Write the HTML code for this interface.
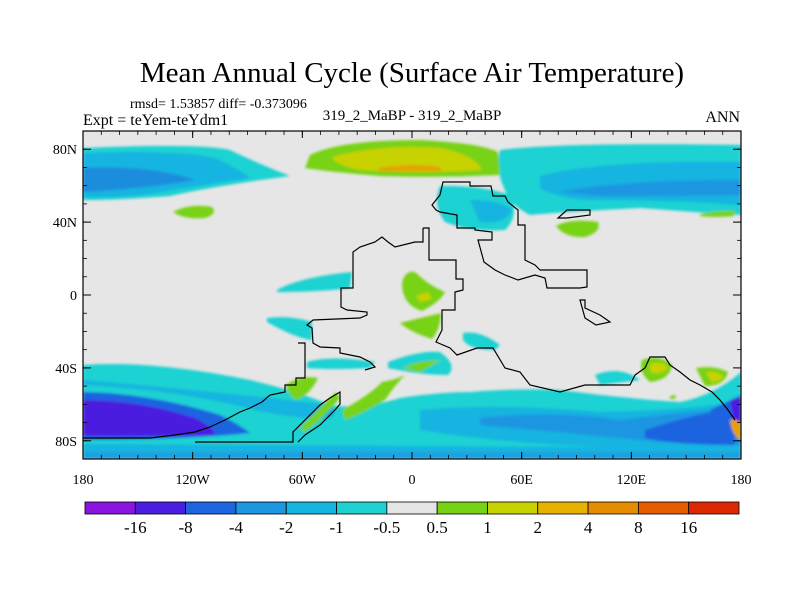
<!DOCTYPE html>
<html><head><meta charset="utf-8"><style>
body{margin:0;background:#fff;}
svg{display:block;font-family:"Liberation Serif",serif;}
</style></head><body>
<svg id="chart" width="800" height="600" viewBox="0 0 800 600">
<rect width="800" height="600" fill="#fff"/>
<text x="412" y="82" font-size="29" text-anchor="middle">Mean Annual Cycle (Surface Air Temperature)</text>
<text x="130" y="108" font-size="14">rmsd= 1.53857 diff= -0.373096</text>
<text x="83" y="125" font-size="16">Expt = teYem-teYdm1</text>
<text x="412" y="120" font-size="15" text-anchor="middle">319_2_MaBP - 319_2_MaBP</text>
<text x="740" y="122" font-size="16" text-anchor="end">ANN</text>
<defs><clipPath id="mc"><rect x="83" y="131" width="658" height="328"/></clipPath>
<filter id="bl"><feGaussianBlur stdDeviation="1.2"/></filter></defs>
<g clip-path="url(#mc)">
<rect x="83" y="131" width="658" height="328" fill="#e6e6e6"/>
<g filter="url(#bl)">
<path d="M83,148 Q200,143 230,150 Q250,160 290,176 Q220,185 170,196 Q120,200 83,200Z" fill="#1ed2d2"/>
<path d="M83,153 Q180,150 215,158 Q240,170 250,178 Q200,185 150,194 Q110,198 83,197Z" fill="#14b4e0"/>
<path d="M83,168 Q150,165 195,180 Q150,188 83,192Z" fill="#1e8cdc"/>
<path d="M500,150 Q560,142 741,145 L741,215 Q690,212 640,208 Q560,212 530,215 Q510,205 505,190 Q495,170 500,150Z" fill="#1ed2d2"/>
<path d="M540,176 Q600,160 741,162 L741,205 Q680,200 600,200 Q560,200 540,188Z" fill="#14b4e0"/>
<path d="M560,192 Q620,180 741,180 L741,195 Q680,196 600,196Z" fill="#1e96e0"/>
<path d="M310,155 Q340,140 420,140 Q480,143 498,152 L500,175 Q440,178 380,176 Q330,172 305,168Z" fill="#78d214"/>
<path d="M332,157 Q380,144 440,148 Q475,155 482,170 Q420,174 360,170 Q335,165 332,157Z" fill="#c8d200"/>
<path d="M378,168 Q410,163 440,167 L442,171 L380,171Z" fill="#e6a000"/>
<path d="M440,186 Q480,185 510,195 Q520,215 505,230 Q470,232 445,222 Q432,205 440,186Z" fill="#1ed2d2"/>
<path d="M470,200 Q500,200 512,210 Q505,225 480,222Z" fill="#14b4e0"/>
<path d="M173,212 Q190,203 212,207 Q218,214 205,218 Q185,220 173,212Z" fill="#78d214"/>
<path d="M556,226 Q570,218 598,222 Q602,232 585,237 Q565,238 556,226Z" fill="#78d214"/>
<path d="M700,214 Q720,210 735,211 L734,216 Q715,218 700,216Z" fill="#78d214"/>
<path d="M402,283 Q405,270 415,272 Q428,285 445,292 Q440,302 422,311 Q402,305 402,283Z" fill="#78d214"/>
<path d="M416,296 L428,292 L432,299 L420,302Z" fill="#c8d200"/>
<path d="M400,323 Q420,318 441,313 Q440,330 432,339 Q410,332 400,323Z" fill="#78d214"/>
<path d="M277,290 Q300,277 352,272 L350,288 Q320,292 277,292Z" fill="#1ed2d2"/>
<path d="M267,318 Q290,315 312,322 L312,340 Q295,338 267,322Z" fill="#1ed2d2"/>
<path d="M307,362 Q330,355 375,362 L370,368 Q330,370 307,368Z" fill="#1ed2d2"/>
<path d="M388,362 Q420,350 440,352 Q458,365 448,375 Q420,375 388,368Z" fill="#1ed2d2"/>
<path d="M463,333 Q480,330 500,345 L495,350 Q470,350 463,340Z" fill="#1ed2d2"/>
<path d="M595,375 Q620,365 640,380 L600,385Z" fill="#1ed2d2"/>
<path d="M83,365 Q150,360 250,380 Q300,392 330,405 Q360,410 400,398 Q440,392 470,392 Q520,388 560,390 Q620,398 680,402 Q715,395 741,372 L741,459 L83,459Z" fill="#1ed2d2"/>
<path d="M83,385 Q180,390 255,410 Q300,420 330,418 Q340,412 330,405 Q250,395 83,380Z" fill="#14b4e0"/>
<path d="M420,410 Q500,403 600,412 Q700,410 741,400 L741,450 Q650,450 560,445 Q480,440 420,430Z" fill="#14b4e0"/>
<path d="M480,418 Q560,410 620,420 Q680,412 741,408 L741,445 Q680,445 640,440 Q560,432 480,425Z" fill="#1e96e0"/>
<path d="M645,430 Q700,412 730,410 L735,445 Q680,445 645,438Z" fill="#1e64e0"/>
<path d="M710,410 L741,395 L741,440 L720,430Z" fill="#1e64e0"/>
<path d="M730,400 L741,398 L741,432 L735,430Z" fill="#4a1ee0"/>
<path d="M730,420 Q738,418 741,425 L741,440 Q732,436 730,420Z" fill="#e6a000"/>
<path d="M83,392 Q150,393 220,415 Q240,425 250,433 Q180,440 83,440Z" fill="#1e64e0"/>
<path d="M83,400 Q140,400 195,418 Q215,428 215,435 Q150,437 83,436Z" fill="#4a1ee0"/>
<path d="M83,444 L741,448 L741,459 L83,459Z" fill="#14b4e0"/>
<path d="M83,452 L741,452 L741,459 L83,459Z" fill="#1ea0e0"/>
<path d="M286,385 Q300,375 318,378 Q310,395 296,400 Q288,395 286,385Z" fill="#78d214"/>
<path d="M300,428 Q318,410 336,392 L340,398 Q322,420 304,432Z" fill="#78d214"/>
<path d="M342,410 Q370,395 382,382 Q395,380 405,375 Q395,385 385,400 Q360,415 345,420Z" fill="#78d214"/>
<path d="M402,368 Q420,360 442,360 L445,358 L420,372Z" fill="#78d214"/>
<path d="M642,360 Q660,354 672,365 Q670,380 650,382 Q638,372 642,360Z" fill="#78d214"/>
<path d="M650,364 Q662,360 668,368 Q660,376 650,372Z" fill="#c8d200"/>
<path d="M696,368 Q715,365 728,372 Q725,386 705,386Z" fill="#78d214"/>
<path d="M706,372 Q718,370 724,378 L712,383Z" fill="#c8d200"/>
<path d="M670,396 L676,395 L675,399 L670,399Z" fill="#78d214"/>
</g>
<g fill="none" stroke="#000" stroke-width="1.2">
<path d="M443,182 L470,182 L470,186 L491,186 L493,196 L505,196 L508,202 L518,210 L518,225 L525,225 L525,260 L535,265 L540,270 L587,270 L587,287 L580,288 L547,288 L545,278 L535,275 L518,280 L505,275 L495,270 L484,262 L478,240 L492,240 L492,232 L475,230 L475,228 L457,228 L457,215 L440,212 L436,210 L432,205 L440,195 Z"/>
<path d="M423,228 L429,228 L429,260 L456,260 L456,279 L463,279 L463,290 L455,292 L455,310 L442,310 L442,330 L436,342 L450,348 L457,355 L477,348 L493,348 L505,368 L520,372 L530,385 L560,392 L585,385 L630,385 L635,375 L645,368 L650,357 L665,357 L670,365 L680,372 L690,380 L700,385 L712,392 L720,400 L728,410 L735,420"/>
<path d="M423,228 L423,242 L415,242 L395,247 L388,242 L382,237 L375,242 L360,247 L353,252 L353,288 L341,288 L341,307 L347,310 L367,312 L367,315 L360,318 L313,320 L307,325 L312,328 L313,343 L320,347 L340,348 L340,353 L360,357 L370,362 L375,367 L365,370"/>
<path d="M298,343 L305,343 L305,378 L296,378 L296,385 L285,385 L285,392 L270,395 L262,402 L250,408 L240,412 L225,420 L210,427 L195,432 L175,435 L150,438 L83,438"/>
<path d="M195,442 L293,442 L293,432 L300,425 L310,415 L320,405 L330,398 L340,392 L340,404 L335,410 L320,425 L305,435 L298,442"/>
<path d="M567,210 L590,210 L590,215 L567,218 L558,218 Z"/>
<path d="M580,300 L585,300 L585,308 L600,315 L610,322 L596,325 L585,318 Z"/>
</g>
</g>
<rect x="83" y="131" width="658" height="328" fill="none" stroke="#000" stroke-width="1.2"/>
<g id="axes" font-size="14"></g>
<g id="cbar"></g>
</svg>
<script>
const levels=["-16","-8","-4","-2","-1","-0.5","0.5","1","2","4","8","16"];
const cbColors=["#8a14e0","#4a1ee0","#1e64e0","#1e96e0","#14b4e0","#1ed2d2","#e6e6e6","#78d214","#c8d200","#e6b400","#e68c00","#e65a00","#dc2800"];
const lonTicks=[-180,-120,-60,0,60,120,180];
const lonLabels=["180","120W","60W","0","60E","120E","180"];
const latTicks=[80,40,0,-40,-80];
const latLabels=["80N","40N","0","40S","80S"];
const NS="http://www.w3.org/2000/svg";
const X=lon=>83+(lon+180)*658/360, Y=lat=>131+(90-lat)*328/180;
function mk(t,a,p){const e=document.createElementNS(NS,t);for(const k in a)e.setAttribute(k,a[k]);p.appendChild(e);return e;}
const ax=document.getElementById('axes');
lonTicks.forEach((l,i)=>{
 const t=mk('text',{x:X(l),y:484,'text-anchor':'middle'},ax);t.textContent=lonLabels[i];
 
 
 mk('line',{x1:X(l),x2:X(l),y1:459,y2:452,stroke:'#000'},ax);
 mk('line',{x1:X(l),x2:X(l),y1:131,y2:138,stroke:'#000'},ax);
});
for(let l=-180;l<=180;l+=10){mk('line',{x1:X(l),x2:X(l),y1:459,y2:455,stroke:'#000','stroke-width':0.8},ax);mk('line',{x1:X(l),x2:X(l),y1:131,y2:135,stroke:'#000','stroke-width':0.8},ax);}
latTicks.forEach((l,i)=>{
 const t=mk('text',{x:77,y:Y(l)+5,'text-anchor':'end'},ax);t.textContent=latLabels[i];
 
 
 mk('line',{x1:83,x2:91,y1:Y(l),y2:Y(l),stroke:'#000'},ax);
 mk('line',{x1:741,x2:733,y1:Y(l),y2:Y(l),stroke:'#000'},ax);
});
for(let l=-90;l<=90;l+=10){mk('line',{x1:83,x2:87,y1:Y(l),y2:Y(l),stroke:'#000','stroke-width':0.8},ax);mk('line',{x1:741,x2:737,y1:Y(l),y2:Y(l),stroke:'#000','stroke-width':0.8},ax);}
const cb=document.getElementById('cbar');
const bw=(739-85)/cbColors.length;
cbColors.forEach((c,i)=>{
 const r=mk('rect',{x:85+i*bw,y:502,width:bw,height:12,fill:c,stroke:'#000','stroke-width':0.8},cb);
 
 
});
levels.forEach((s,i)=>{
 const t=mk('text',{x:85+(i+1)*bw,y:533,'text-anchor':'middle','font-size':17},cb);t.textContent=s;
 
 
});
</script>
</body></html>
